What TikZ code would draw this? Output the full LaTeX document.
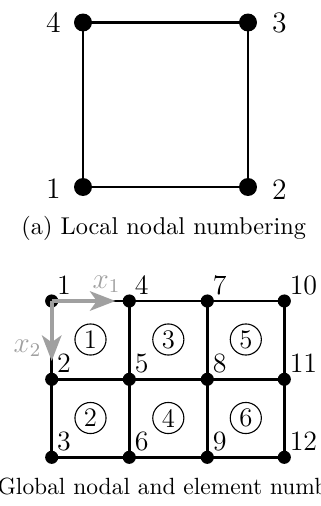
\documentclass[tikz,border=0pt]{standalone}
\usetikzlibrary{arrows.meta}
\definecolor{axisgray}{RGB}{160,160,160}
\begin{document}
\begin{tikzpicture}[x=0.4115pt,y=-0.4115pt,
  bigdot/.style={circle,fill=black,inner sep=0pt,minimum size=7.4pt},
  smalldot/.style={circle,fill=black,inner sep=0pt,minimum size=5.4pt},
  quadedge/.style={line width=1.1pt},
  gridedge/.style={line width=1.2pt},
  biglabel/.style={inner sep=0pt,font=\fontsize{12.2}{14}\selectfont},
  numlabel/.style={inner sep=0pt,font=\fontsize{11.5}{13}\selectfont},
  elemlabel/.style={circle,draw,line width=0.45pt,inner sep=0pt,minimum size=12.8pt,
    font=\fontsize{11}{13}\selectfont},
  axisarrow/.style={axisgray,line width=1.6pt,
    -{Stealth[length=10.5pt,width=8pt,inset=2.8pt]}},
  axislabel/.style={axisgray,inner sep=0pt,font=\fontsize{12}{14}\selectfont},
  caption/.style={inner sep=0pt,font=\fontsize{10}{12}\selectfont}]
\useasboundingbox (0,0) rectangle (320,506);

% ---- (a) single quadrilateral element ----
\node[bigdot] (a1) at (83,187) {};
\node[bigdot] (a2) at (248,187) {};
\node[bigdot] (a3) at (248,22.5) {};
\node[bigdot] (a4) at (83,22.5) {};
\draw[quadedge] (a1.center) -- (a2.center) -- (a3.center) -- (a4.center) -- cycle;
\node[biglabel] (la1) at (53.5,189) {1};
\node[biglabel] (la2) at (279.5,190) {2};
\node[biglabel] (la3) at (279.5,22.5) {3};
\node[biglabel] (la4) at (53.5,22.5) {4};
\node[caption,anchor=base] (capa) at (163.8,234) {(a) Local nodal numbering};

% ---- (b) 3x2 mesh ----
\foreach \i/\x in {0/51.7,1/129.3,2/207.3,3/284.3}
  \foreach \j/\y in {0/301,1/379.3,2/457.3} {
    \pgfmathtruncatemacro\nodeno{3*\i+\j+1}
    \node[smalldot] (g\nodeno) at (\x,\y) {};
  }
\foreach \a/\b in {1/4,4/7,7/10,2/5,5/8,8/11,3/6,6/9,9/12,
                   1/2,2/3,4/5,5/6,7/8,8/9,10/11,11/12}
  \draw[gridedge] (g\a.center) -- (g\b.center);
\foreach \k in {1,...,12}
  \node[numlabel,anchor=base west] (t\k) at ([xshift=5*0.4115pt,yshift=6.5*0.4115pt]g\k.center) {\k};

% element numbers
\foreach \i/\x in {0/90.5,1/168.3,2/245.8}
  \foreach \j/\y in {0/339.5,1/418} {
    \pgfmathtruncatemacro\elno{2*\i+\j+1}
    \node[elemlabel] (e\elno) at (\x,\y) {\elno};
  }

% coordinate axes
\coordinate (x1tip) at (115.5,301);
\coordinate (x2tip) at (51.7,361);
\draw[axisarrow] (g1.center) -- (x1tip);
\draw[axisarrow] (g1.center) -- (x2tip);
\node[axislabel] (x1lab) at (106.5,284) {$x_1$};
\node[axislabel] (x2lab) at (27.5,348) {$x_2$};

\node[caption,anchor=base west,font=\fontsize{9.65}{12}\selectfont] (capb) at (-42,494)
  {(b) Global nodal and element numbering};
\end{tikzpicture}
\end{document}
